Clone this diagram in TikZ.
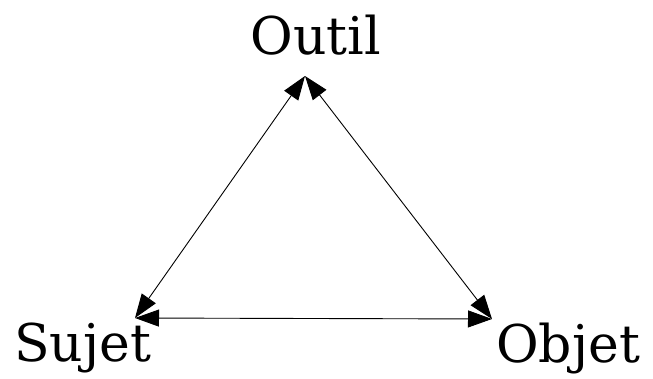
\documentclass[tikz,border=0pt]{standalone}
\usepackage{fontspec}
\setmainfont{DejaVu Serif}
\usetikzlibrary{arrows.meta}
\begin{document}
\begin{tikzpicture}[x=1pt,y=-1pt,
  lbl/.style={font=\fontsize{52}{62}\selectfont, inner sep=0pt},
  link/.style={line width=0.9pt, {Triangle[length=24pt,width=17pt]}-{Triangle[length=24pt,width=17pt]}}]
\useasboundingbox (0,0) rectangle (653,378);
\node[lbl, anchor=base] (outil) at (316,54) {Outil};
\node[lbl, anchor=base west] (sujet) at (14,361) {Sujet};
\node[lbl, anchor=base west] (objet) at (496,362) {Objet};
\coordinate (t) at (305,76);
\coordinate (s) at (135,318);
\coordinate (o) at (492,319);
\draw[link] (s) -- (t);
\draw[link] (t) -- (o);
\draw[link] (s) -- (o);
\end{tikzpicture}
\end{document}
